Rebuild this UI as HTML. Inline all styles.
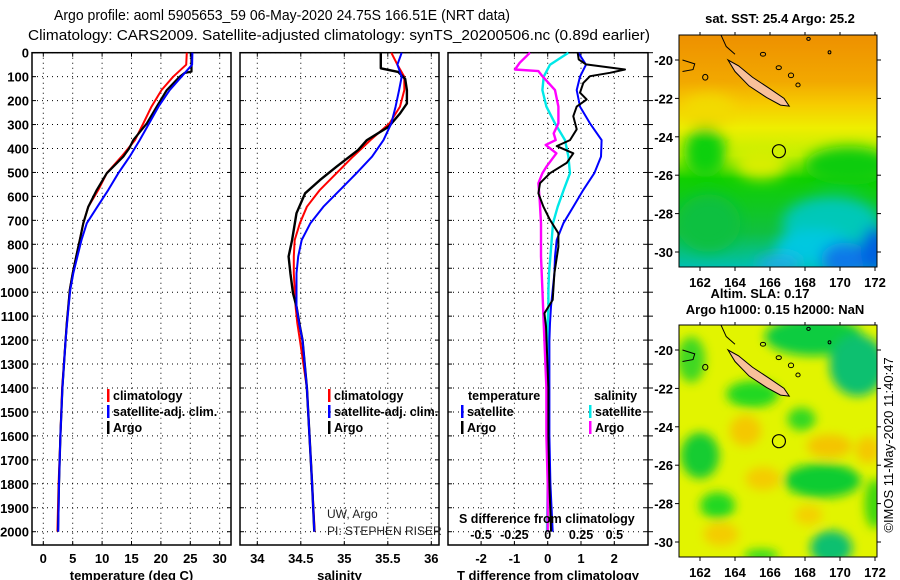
<!DOCTYPE html>
<html><head><meta charset="utf-8"><style>
html,body{margin:0;padding:0;background:#fff;}
svg{display:block;font-family:"Liberation Sans",sans-serif;}
.tk{font-size:13px;font-weight:bold;fill:#000;}
.lg{font-size:12.5px;font-weight:bold;fill:#000;}
</style></head><body>
<svg id="fig" width="900" height="580" viewBox="0 0 900 580">
<defs>
<filter id="blur" x="-50%" y="-50%" width="200%" height="200%"><feGaussianBlur stdDeviation="7"/></filter>
<filter id="blur2" x="-50%" y="-50%" width="200%" height="200%"><feGaussianBlur stdDeviation="5"/></filter>
<clipPath id="clip1"><rect x="679" y="35" width="198" height="232"/></clipPath>
<clipPath id="clip2"><rect x="679" y="325" width="198" height="232"/></clipPath>
<linearGradient id="sstg" x1="0" y1="0" x2="0" y2="1">
<stop offset="0" stop-color="#ee9000"/><stop offset="0.2" stop-color="#f2a800"/><stop offset="0.3" stop-color="#f6cc00"/><stop offset="0.4" stop-color="#eeee00"/><stop offset="0.52" stop-color="#c0f000"/><stop offset="0.62" stop-color="#10d000"/><stop offset="0.85" stop-color="#10c040"/><stop offset="1" stop-color="#00c0b0"/>
</linearGradient>
</defs>
<text x="282" y="20" text-anchor="middle" font-size="14.5" textLength="456" lengthAdjust="spacingAndGlyphs">Argo profile: aoml 5905653_59 06-May-2020 24.75S 166.51E (NRT data)</text>
<text x="339" y="40" text-anchor="middle" font-size="14.5" textLength="622" lengthAdjust="spacingAndGlyphs">Climatology: CARS2009. Satellite-adjusted climatology: synTS_20200506.nc (0.89d earlier)</text>
<g id="panels"></g>
<g id="maps"></g>
<text transform="translate(893,445) rotate(-90)" text-anchor="middle" font-size="13">©IMOS 11-May-2020 11:40:47</text>
</svg>
<script>
// ---- data ----
const depthsClim = [0,50,100,156,225,295,365,434,503,573,643,712,782,851,921,990,1060,1129,1200,1400,1600,1800,2000];
const tempClim = [24.4,24.3,22.1,20.1,18.4,17.0,15.6,13.3,10.8,9.35,7.65,6.8,6.2,5.6,5.0,4.5,4.25,4.0,3.8,3.2,2.9,2.6,2.4];
const tempSat = [25.35,25.3,23.5,21.5,19.6,18.0,16.4,14.7,12.75,11.05,9.2,7.4,6.5,5.8,5.1,4.6,4.3,4.05,3.8,3.25,2.9,2.67,2.53];
const depthsTArgo = [0,79,85,100,156,225,295,365,400,434,503,573,643,712,782,851,921,990,1060,1129,1200,1400,1600,1800,2000];
const tempArgo = [25.2,25.2,24.0,23.2,21.0,19.3,17.6,15.3,14.6,13.6,10.8,9.1,7.65,6.8,6.2,5.6,5.0,4.5,4.25,4.0,3.8,3.25,2.9,2.67,2.5];
const salClim = [35.54,35.61,35.69,35.69,35.64,35.52,35.30,35.10,34.91,34.72,34.57,34.49,34.43,34.42,34.42,34.43,34.44,34.46,34.49,34.57,34.6,34.63,34.66];
const salSat = [35.66,35.61,35.66,35.63,35.59,35.54,35.45,35.32,35.14,34.95,34.76,34.61,34.51,34.47,34.45,34.45,34.45,34.48,34.52,34.57,34.6,34.63,34.655];
const depthsSArgo = [0,65,80,110,156,212,254,309,365,406,476,532,587,670,782,851,921,1004,1060,1143,1200,1400,1600,1800,2000];
const salArgo = [35.42,35.42,35.62,35.70,35.72,35.72,35.64,35.51,35.26,35.16,34.91,34.72,34.55,34.45,34.40,34.36,34.38,34.41,34.45,34.49,34.52,34.57,34.6,34.63,34.655];
const dTSat = [0.92,1.15,0.97,0.87,0.97,1.27,1.62,1.6,1.4,1.07,0.77,0.47,0.27,0.22,0.2,0.15,0.1,0.07,0.05,0.05,0.05,0.08,0.15];
const dSSat = [0.155,0.017,-0.03,-0.04,-0.01,0.055,0.13,0.155,0.167,0.12,0.075,0.04,0.03,0.02,0.01,0.005,0.005,0,0,0,0,0,-0.005];
const depthsDTArgo = [0,28,49,70,84,98,126,167,195,225,265,320,365,390,420,460,503,545,587,643,698,754,810,921,1032,1088,1143,1400,1600,1800,2000];
const dTArgo = [0.9,0.93,1.15,2.32,1.87,1.27,1.07,0.97,1.17,0.87,0.77,0.87,0.67,0.27,0.77,0.57,0.07,-0.23,-0.28,-0.13,0.07,0.32,0.32,0.2,0.15,-0.1,-0.05,0.02,0.02,0.05,0.1];
const depthsDSArgo = [0,42,70,77,98,156,225,295,337,365,385,420,476,503,545,615,712,851,990,1129,1400,1600,1800,2000];
const dSArgo = [-0.133,-0.21,-0.245,-0.07,-0.04,0.055,0.08,0.08,0.045,0.06,-0.015,0.065,-0.01,-0.04,-0.07,-0.06,-0.05,-0.05,-0.04,-0.03,-0.01,-0.01,0,0];
const depthTicks = [0,100,200,300,400,500,600,700,800,900,1000,1100,1200,1300,1400,1500,1600,1700,1800,1900,2000];
const tempTicks = [0,5,10,15,20,25,30];
const salTicks = [34,34.5,35,35.5,36];
const salTickLabels = ["34","34.5","35","35.5","36"];
const dTTicks = [-2,-1,0,1,2];
const dSTicks = [-0.5,-0.25,0,0.25,0.5];
const dSTickLabels = ["-0.5","-0.25","0","0.25","0.5"];
const lonTicks = [162,164,166,168,170,172];
const latTicks = [-20,-22,-24,-26,-28,-30];

const NS="http://www.w3.org/2000/svg";
const svg=document.getElementById('fig');
const G=document.getElementById('panels');
function el(tag,attrs,parent,txt){const e=document.createElementNS(NS,tag);for(const k in attrs)e.setAttribute(k,attrs[k]);if(txt!==undefined)e.textContent=txt;(parent||G).appendChild(e);return e;}

const TOP=52.7, BOT=545;
const yD=d=>TOP+d*0.2395;
const xT=t=>43.3+t*5.88;
const xS=s=>257.3+(s-34)*87;
const xDT=t=>547.7+t*33.3;
const xDS=s=>547.7+s*133.3;

const panels=[{x0:32,x1:231,name:'temperature-panel'},{x0:240,x1:439,name:'salinity-panel'},{x0:448,x1:648,name:'difference-panel'}];
const xTickSets=[tempTicks.map(xT),salTicks.map(xS),dTTicks.map(xDT)];
const xLabelSets=[tempTicks.map(String),salTickLabels,dTTicks.map(String)];
const xTitles=['temperature (deg C)','salinity','T difference from climatology'];

panels.forEach((p,i)=>{
  const g=el('g',{},G);
  
  
  depthTicks.forEach(d=>{
    el('line',{x1:p.x0,x2:p.x1,y1:yD(d),y2:yD(d),stroke:'#000','stroke-width':1,'stroke-dasharray':'1,4'},g);
    el('line',{x1:p.x0,x2:p.x0+4,y1:yD(d),y2:yD(d),stroke:'#000'},g);
    el('line',{x1:p.x1-4,x2:p.x1,y1:yD(d),y2:yD(d),stroke:'#000'},g);
  });
  xTickSets[i].forEach((x,k)=>{
    el('line',{x1:x,x2:x,y1:TOP,y2:BOT,stroke:'#000','stroke-width':1,'stroke-dasharray':'1,4'},g);
    el('line',{x1:x,x2:x,y1:TOP,y2:TOP+4,stroke:'#000'},g);
    el('line',{x1:x,x2:x,y1:BOT-4,y2:BOT,stroke:'#000'},g);
    const t=el('text',{x:x,y:563,'text-anchor':'middle',class:'tk'},g,xLabelSets[i][k]);
    
    
  });
  el('rect',{x:p.x0,y:TOP,width:p.x1-p.x0,height:BOT-TOP,fill:'none',stroke:'#000','stroke-width':1.5},g);
  const xt=el('text',{x:(p.x0+p.x1)/2,y:580,'text-anchor':'middle',class:'tk'},g,xTitles[i]);
  
  
});
depthTicks.forEach(d=>{
  const t=el('text',{x:29,y:yD(d)+5,'text-anchor':'end',class:'tk'},G,String(d));
  
  
  el('line',{x1:648,x2:653,y1:yD(d),y2:yD(d),stroke:'#000'});
});

function line(ds,vs,fx,color,w,name){
  const pts=ds.map((d,k)=>fx(vs[k]).toFixed(1)+','+yD(d).toFixed(1)).join(' ');
  const pl=el('polyline',{points:pts,fill:'none',stroke:color,'stroke-width':w,'stroke-linejoin':'round'});
  
  
}
line(depthsClim,tempClim,xT,'#ff0000',2,'temp-climatology-line');
line(depthsTArgo,tempArgo,xT,'#000000',2.2,'temp-argo-line');
line(depthsClim,tempSat,xT,'#0000ff',2,'temp-satellite-line');
line(depthsClim,salClim,xS,'#ff0000',2,'sal-climatology-line');
line(depthsSArgo,salArgo,xS,'#000000',2.4,'sal-argo-line');
line(depthsClim,salSat,xS,'#0000ff',2,'sal-satellite-line');
line(depthsClim,dSSat,xDS,'#00e8e8',2.4,'sdiff-satellite-line');
line(depthsDSArgo,dSArgo,xDS,'#ff00ff',2.4,'sdiff-argo-line');
line(depthsClim,dTSat,xDT,'#0000ff',2,'tdiff-satellite-line');
line(depthsDTArgo,dTArgo,xDT,'#000000',2,'tdiff-argo-line');

function legend(x,y,color,label,name){
  const g=el('g',{},G);
  
  
  el('rect',{x:x,y:y-11,width:2.5,height:13,fill:color},g);
  el('text',{x:x+6,y:y,class:'lg'},g,label);
}
legend(107,400,'#ff0000','climatology','legend-temp-climatology');
legend(107,416,'#0000ff','satellite-adj. clim.','legend-temp-satellite');
legend(107,432,'#000000','Argo','legend-temp-argo');
legend(328,400,'#ff0000','climatology','legend-sal-climatology');
legend(328,416,'#0000ff','satellite-adj. clim.','legend-sal-satellite');
legend(328,432,'#000000','Argo','legend-sal-argo');
el('text',{x:468,y:400,class:'lg'},G,'temperature');
el('text',{x:594,y:400,class:'lg'},G,'salinity');
legend(461,416,'#0000ff','satellite','legend-tdiff-satellite');
legend(461,432,'#000000','Argo','legend-tdiff-argo');
legend(589,416,'#00e8e8','satellite','legend-sdiff-satellite');
legend(589,432,'#ff00ff','Argo','legend-sdiff-argo');
el('text',{x:459,y:523,class:'lg'},G,'S difference from climatology');
dSTicks.forEach((s,k)=>{el('text',{x:xDS(s),y:539,'text-anchor':'middle',class:'lg'},G,dSTickLabels[k]);});
el('text',{x:327,y:518,'font-size':12,fill:'#222'},G,'UW, Argo');
el('text',{x:327,y:535,'font-size':12,fill:'#222'},G,'PI: STEPHEN RISER');

// ---- maps ----
const M=document.getElementById('maps');
function mk(tag,attrs,parent,txt){return el(tag,attrs,parent||M,txt);}
function mapFrame(top,clip,name,fills){
  const lx=lon=>700+(lon-162)*17.5;
  const ly=lat=>top+25+(-20-lat)*19.2;
  const g=mk('g',{});
  
  
  const inner=mk('g',{'clip-path':'url(#'+clip+')'},g);
  fills(inner,lx,ly,top);
  const isl=[[163.6,-20.0],[164.2,-20.3],[165,-20.9],[166,-21.5],[166.8,-22.0],[167.1,-22.4],[166.6,-22.35],[165.8,-21.95],[164.8,-21.35],[164,-20.6]];
  mk('polygon',{points:isl.map(p=>lx(p[0])+','+ly(p[1])).join(' '),fill:'#f8c09a',stroke:'#000','stroke-width':1},inner);
  [[167.2,-20.8,0.15,0.12],[167.6,-21.3,0.12,0.1],[166.5,-20.4,0.15,0.1],[165.6,-19.7,0.15,0.1],[162.3,-20.9,0.15,0.15],[169.4,-19.6,0.08,0.08],[168.2,-18.9,0.1,0.08]].forEach(c=>{
    mk('ellipse',{cx:lx(c[0]),cy:ly(c[1]),rx:c[2]*17.5,ry:c[3]*19.2,fill:'none',stroke:'#000','stroke-width':1},inner);
  });
  mk('polyline',{points:[[161,-20.6],[161.6,-20.5],[161.7,-20.2],[161,-20.0]].map(p=>lx(p[0])+','+ly(p[1])).join(' '),fill:'none',stroke:'#000'},inner);
  mk('polyline',{points:[[163.2,-18.7],[163.5,-19.3],[164,-19.7]].map(p=>lx(p[0])+','+ly(p[1])).join(' '),fill:'none',stroke:'#000'},inner);
  mk('circle',{cx:lx(166.51),cy:ly(-24.75),r:6.5,fill:'none',stroke:'#000','stroke-width':1.2},inner);
  mk('rect',{x:679,y:top,width:198,height:232,fill:'none',stroke:'#000'},g);
  lonTicks.forEach(l=>{
    mk('line',{x1:lx(l),x2:lx(l),y1:top+232,y2:top+236,stroke:'#000'},g);
    mk('line',{x1:lx(l),x2:lx(l),y1:top,y2:top-3,stroke:'#000'},g);
    mk('text',{x:lx(l),y:top+252,'text-anchor':'middle',class:'tk'},g,String(l));
  });
  latTicks.forEach(l=>{
    mk('line',{x1:679,x2:675,y1:ly(l),y2:ly(l),stroke:'#000'},g);
    mk('line',{x1:877,x2:881,y1:ly(l),y2:ly(l),stroke:'#000'},g);
    mk('text',{x:673,y:ly(l)+5,'text-anchor':'end',class:'tk'},g,String(l));
  });
}
mapFrame(35,'clip1','sst-map',(g,lx,ly,top)=>{
  mk('rect',{x:679,y:top,width:198,height:232,fill:'url(#sstg)'},g);
  const b=mk('g',{filter:'url(#blur)'},g);
  [[162.3,-24.8,1.2,1.3,'#10d010'],[170.5,-25.5,2.5,1.0,'#10cc10'],[165.5,-25.4,1.5,0.8,'#d8ee00'],[169.5,-28.5,2.8,1.4,'#00c8b8'],[168.5,-29.8,2.2,1.0,'#00c8e0'],[170.3,-30.4,1.4,0.9,'#0878e8'],[172,-29.9,0.8,1.2,'#0060e0'],[166.5,-30.6,1.3,0.4,'#20a8e8'],[162.5,-28.5,1.8,1.5,'#10c040'],[162.5,-22.6,1.5,0.8,'#f2da00']].forEach(c=>{
    mk('ellipse',{cx:lx(c[0]),cy:ly(c[1]),rx:c[2]*17.5,ry:c[3]*19.2,fill:c[4]},b);
  });
});
mapFrame(325,'clip2','sla-map',(g,lx,ly,top)=>{
  mk('rect',{x:679,y:top,width:198,height:232,fill:'#e2f400'},g);
  const b=mk('g',{filter:'url(#blur2)'},g);
  [[168.5,-19.3,2.8,1.0,'#10cc40'],[171,-20.8,1.6,1.6,'#10c070'],[165,-22.3,1.5,0.7,'#20d820'],[167.8,-23.6,0.8,0.6,'#30d820'],[162,-25.5,1.1,1.2,'#18cc30'],[163,-28.1,1.0,0.7,'#20d820'],[169,-26.8,2.2,0.9,'#10cc30'],[169.5,-30.3,1.2,0.9,'#10c070'],[172,-28,0.6,1.3,'#40d810'],[165.5,-30.7,1,0.3,'#20d820'],[161.5,-20.5,0.8,1.2,'#40d820'],
   [164.6,-24.2,0.9,0.8,'#f4c800'],[169.4,-25,1.3,0.6,'#f4c400'],[171.6,-25.2,0.7,0.7,'#f4c800'],[165.6,-26.7,1.0,0.6,'#f4cc00'],[163.2,-29.6,1.0,0.6,'#f4cc00'],[168.2,-28.6,0.8,0.5,'#f4d000']].forEach(c=>{
    mk('ellipse',{cx:lx(c[0]),cy:ly(c[1]),rx:c[2]*17.5,ry:c[3]*19.2,fill:c[4]},b);
  });
});
mk('text',{x:780,y:23,'text-anchor':'middle',class:'tk'},M,'sat. SST: 25.4 Argo: 25.2');
mk('text',{x:760,y:298,'text-anchor':'middle',class:'tk'},M,'Altim. SLA: 0.17');
mk('text',{x:775,y:314,'text-anchor':'middle',class:'tk'},M,'Argo h1000: 0.15 h2000: NaN');
</script>
</body></html>
